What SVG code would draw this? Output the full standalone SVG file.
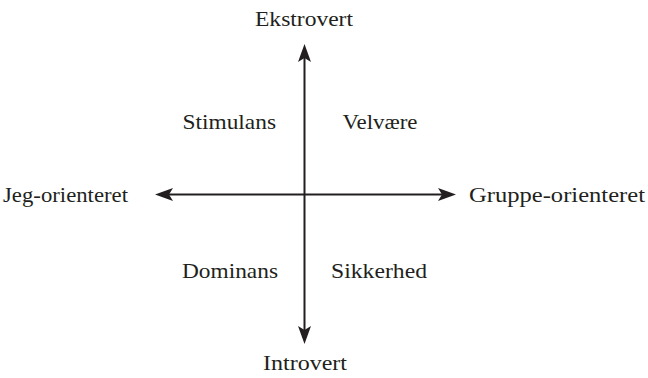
<svg xmlns="http://www.w3.org/2000/svg" width="648" height="378" viewBox="0 0 648 378">
<style>
.t{font-family:"Liberation Serif","Times New Roman",serif;font-size:21px;fill:#231f20}
.ax{stroke:#231f20;stroke-width:2;fill:none}
</style>
<defs>
<marker id="ah" markerUnits="userSpaceOnUse" markerWidth="18" markerHeight="13" refX="4" refY="6.5" orient="auto-start-reverse" overflow="visible">
<path d="M0,0 L18,6.5 L0,13 L4,6.5 Z" fill="#231f20"/>
</marker>
</defs>
<rect width="648" height="378" fill="#fff"/>
<g id="connectors">
<line class="ax" x1="304.5" y1="58" x2="304.5" y2="330" marker-start="url(#ah)" marker-end="url(#ah)"/>
<line class="ax" x1="169" y1="194.5" x2="442" y2="194.5" marker-start="url(#ah)" marker-end="url(#ah)"/>
</g>
<g id="ekstrovert"><text class="t" x="255" y="26" textLength="98" lengthAdjust="spacingAndGlyphs">Ekstrovert</text></g>
<g id="introvert"><text class="t" x="263" y="370" textLength="84" lengthAdjust="spacingAndGlyphs">Introvert</text></g>
<g id="jeg"><text class="t" x="3" y="202" textLength="125" lengthAdjust="spacingAndGlyphs">Jeg-orienteret</text></g>
<g id="gruppe"><text class="t" x="469" y="202" textLength="176" lengthAdjust="spacingAndGlyphs">Gruppe-orienteret</text></g>
<g id="stimulans"><text class="t" x="182.5" y="128.5" textLength="93.5" lengthAdjust="spacingAndGlyphs">Stimulans</text></g>
<g id="velvaere"><text class="t" x="342.5" y="128.5" textLength="75" lengthAdjust="spacingAndGlyphs">Velvære</text></g>
<g id="dominans"><text class="t" x="182" y="278" textLength="96" lengthAdjust="spacingAndGlyphs">Dominans</text></g>
<g id="sikkerhed"><text class="t" x="331" y="278" textLength="96" lengthAdjust="spacingAndGlyphs">Sikkerhed</text></g>
</svg>
